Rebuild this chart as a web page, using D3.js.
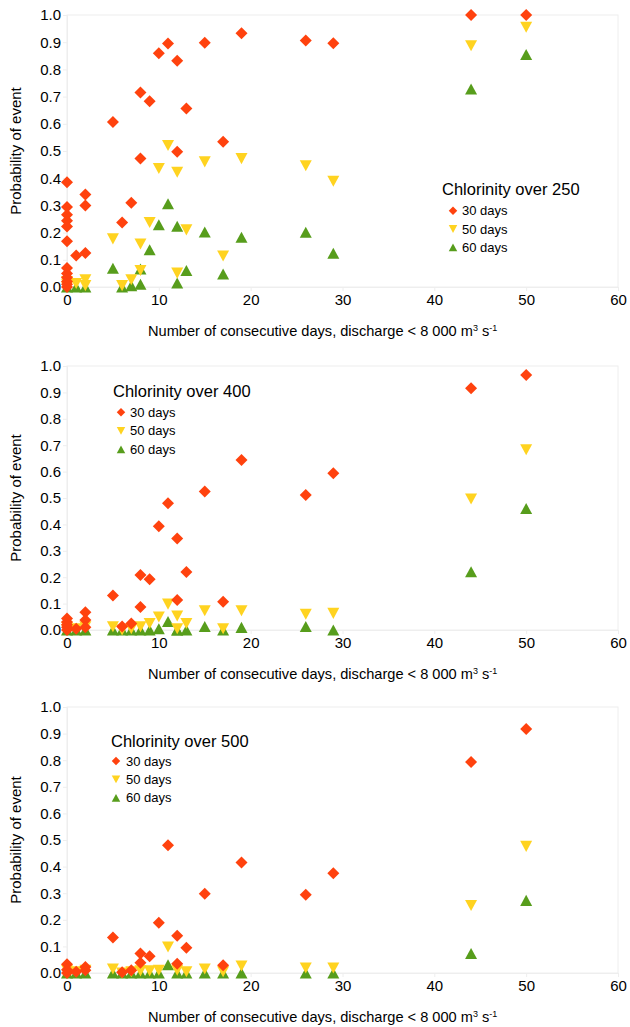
<!DOCTYPE html>
<html>
<head>
<meta charset="utf-8">
<script src="https://cdn.jsdelivr.net/npm/d3@7"></script>
<style>
  body { margin: 0; background: #fff; }
  text { font-family: "Liberation Sans", Arial, sans-serif; fill: #000; }
</style>
</head>
<body>
<script>
// x ticks / y ticks
var xTicks = [0, 10, 20, 30, 40, 50, 60];
var yTicks = [0, 0.1, 0.2, 0.3, 0.4, 0.5, 0.6, 0.7, 0.8, 0.9, 1.0];
var seriesNames = ['30 days', '50 days', '60 days'];
var panelTitles = ['Chlorinity over 250', 'Chlorinity over 400', 'Chlorinity over 500'];

// chlorinity over 250 : [days, probability]
var c250_30 = [[0,0.385],[0,0.294],[0,0.266],[0,0.244],[0,0.222],[0,0.168],[0,0.07],[0,0.05],[0,0.035],[0,0.02],[0,0.01],[0,0],
  [1,0.116],[2,0.34],[2,0.30],[2,0.125],[5,0.607],[6,0.237],[7,0.31],[8,0.715],[8,0.472],[9,0.683],[10,0.859],[11,0.895],
  [12,0.832],[12,0.497],[13,0.656],[15,0.898],[17,0.534],[19,0.933],[26,0.906],[29,0.896],[44,1.0],[50,1.0]];
var c250_50 = [[0,0.02],[0,0.01],[0,0],[1,0.013],[2,0.027],[2,0.005],[5,0.177],[6,0.005],[7,0.027],[8,0.158],[8,0.061],
  [9,0.237],[10,0.436],[11,0.52],[12,0.422],[12,0.051],[13,0.21],[15,0.46],[17,0.114],[19,0.472],[26,0.446],[29,0.389],
  [44,0.887],[50,0.955]];
var c250_60 = [[0,0],[1,0],[2,0],[5,0.069],[6,0],[7,0.005],[8,0.066],[8,0.01],[9,0.137],[10,0.229],[11,0.306],[12,0.223],
  [12,0.015],[13,0.061],[15,0.202],[17,0.048],[19,0.183],[26,0.201],[29,0.124],[44,0.728],[50,0.855]];

// chlorinity over 400
var c400_30 = [[0,0.044],[0,0.03],[0,0.02],[0,0.01],[0,0],[1,0.005],[2,0.067],[2,0.038],[2,0.01],[5,0.131],[6,0.013],
  [7,0.025],[8,0.208],[8,0.087],[9,0.192],[10,0.393],[11,0.48],[12,0.347],[12,0.114],[13,0.22],[15,0.525],[17,0.107],
  [19,0.644],[26,0.511],[29,0.594],[44,0.916],[50,0.966]];
var c400_50 = [[0,0.01],[0,0],[1,0.005],[2,0.012],[5,0.012],[6,0],[7,0.005],[8,0.012],[9,0.025],[10,0.049],[11,0.098],
  [12,0.053],[12,0.005],[13,0.025],[15,0.073],[17,0.005],[19,0.073],[26,0.06],[29,0.063],[44,0.496],[50,0.683]];
var c400_60 = [[0,0],[1,0],[2,0],[5,0],[6,0],[7,0],[8,0],[9,0],[10,0.005],[11,0.032],[12,0],[12,0],[13,0],[15,0.013],
  [17,0],[19,0.01],[26,0.013],[29,0],[44,0.221],[50,0.46]];

// chlorinity over 500
var c500_30 = [[0,0.033],[0,0.012],[0,0],[1,0.005],[2,0.023],[2,0.01],[5,0.133],[6,0.003],[7,0.01],[8,0.073],[8,0.039],
  [9,0.063],[10,0.189],[11,0.48],[12,0.14],[12,0.035],[13,0.095],[15,0.298],[17,0.029],[19,0.415],[26,0.294],[29,0.375],
  [44,0.793],[50,0.917]];
var c500_50 = [[0,0.01],[1,0.005],[2,0.01],[5,0.015],[6,0],[7,0.005],[8,0.008],[9,0.008],[10,0.01],[11,0.098],[12,0.01],
  [13,0.005],[15,0.015],[17,0.005],[19,0.026],[26,0.019],[29,0.019],[44,0.254],[50,0.476]];
var c500_60 = [[0,0],[1,0],[2,0],[5,0],[6,0],[7,0],[8,0],[9,0],[10,0],[11,0.031],[12,0],[13,0],[15,0],[17,0],[19,0],
  [26,0],[29,0],[44,0.073],[50,0.273]];

var colors = ['#ff420e', '#ffd320', '#579d1c'];

var panels = [
  { top: 15, bottom: 287, series: [c250_30, c250_50, c250_60], legend: { x: 442, y: 189, mx: 453, tx: 462, step: 18.3, y0: 210.7 } },
  { top: 366, bottom: 630, series: [c400_30, c400_50, c400_60], legend: { x: 113, y: 391, mx: 121, tx: 130, step: 18.5, y0: 412.3 } },
  { top: 707, bottom: 973, series: [c500_30, c500_50, c500_60], legend: { x: 111, y: 741, mx: 116, tx: 126, step: 18.4, y0: 761 } }
];

var W = 630, H = 1027;
var left = 67, right = 618;

var svg = d3.select('body').append('svg')
  .attr('width', W)
  .attr('height', H);

// marker paths, centred on their bounding box
function markerPath(kind, s) {
  var h = s / 2;
  if (kind === 0) return 'M0,' + (-h) + 'L' + h + ',0L0,' + h + 'L' + (-h) + ',0Z';
  var th = s * 0.46;
  if (kind === 1) return 'M' + (-h) + ',' + (-th) + 'L' + h + ',' + (-th) + 'L0,' + th + 'Z';
  return 'M' + (-h) + ',' + th + 'L' + h + ',' + th + 'L0,' + (-th) + 'Z';
}

panels.forEach(function(p, pi) {
  var x = d3.scaleLinear().domain([0, 60]).range([left, right]);
  var y = d3.scaleLinear().domain([0, 1]).range([p.bottom, p.top]);
  var g = svg.append('g');

  // faint frame
  g.append('rect')
    .attr('x', left).attr('y', p.top)
    .attr('width', right - left).attr('height', p.bottom - p.top)
    .attr('fill', 'none').attr('stroke', '#eeeeee').attr('stroke-width', 1);

  var yAxis = g.append('g')
    .attr('transform', 'translate(' + left + ',0)')
    .call(d3.axisLeft(y).tickValues(yTicks).tickFormat(d3.format('.1f')).tickSize(4).tickPadding(2));
  var xAxis = g.append('g')
    .attr('transform', 'translate(0,' + p.bottom + ')')
    .call(d3.axisBottom(x).tickValues(xTicks).tickSize(4).tickPadding(3));
  [xAxis, yAxis].forEach(function(a) {
    a.select('.domain').attr('stroke', '#eeeeee');
    a.selectAll('.tick line').attr('stroke', '#eeeeee');
    a.selectAll('.tick text').style('font-size', '15px').style('font-family', '"Liberation Sans", Arial, sans-serif').attr('fill', '#000');
  });

  // y title
  g.append('text')
    .attr('transform', 'translate(16,' + ((p.top + p.bottom) / 2) + ') rotate(-90)')
    .attr('text-anchor', 'middle')
    .attr('dy', '0.35em')
    .style('font-size', '15px')
    .text('Probability of event');

  // x title
  var xt = g.append('text')
    .attr('x', 148)
    .attr('y', p.bottom + 49)
    .style('font-size', '14.6px');
  xt.append('tspan').text('Number of consecutive days, discharge < 8 000 m');
  xt.append('tspan').attr('dy', -5).style('font-size', '9px').text('3');
  xt.append('tspan').attr('dy', 5).text(' s');
  xt.append('tspan').attr('dy', -5).style('font-size', '9px').text('-1');

  // points: 60 days first, then 50, then 30 on top
  [2, 1, 0].forEach(function(k) {
    g.append('g').selectAll('path').data(p.series[k]).enter().append('path')
      .attr('d', markerPath(k, 12))
      .attr('transform', function(d) { return 'translate(' + x(d[0]) + ',' + y(d[1]) + ')'; })
      .attr('fill', colors[k]);
  });

  // legend
  var L = p.legend;
  g.append('text')
    .attr('x', L.x).attr('y', L.y)
    .attr('dy', '0.35em')
    .style('font-size', '16.5px')
    .text(panelTitles[pi]);
  seriesNames.forEach(function(n, k) {
    var yy = L.y0 + k * L.step;
    g.append('path')
      .attr('d', markerPath(k, 8.5))
      .attr('transform', 'translate(' + L.mx + ',' + yy + ')')
      .attr('fill', colors[k]);
    g.append('text')
      .attr('x', L.tx).attr('y', yy)
      .attr('dy', '0.35em')
      .style('font-size', '13px')
      .text(n);
  });
});
</script>
</body>
</html>
